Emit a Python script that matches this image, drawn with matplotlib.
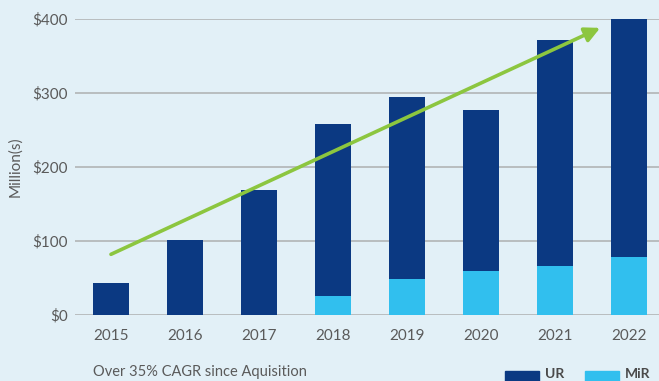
import matplotlib
matplotlib.use('Agg')
from matplotlib import pyplot as plt
from matplotlib.patches import Rectangle

years = ['2015', '2016', '2017', '2018', '2019', '2020', '2021', '2022']
mir = [0, 0, 0, 26, 49, 60, 66, 78]
total = [43, 101, 169, 258, 295, 277, 372, 400]
ur = [t - m for t, m in zip(total, mir)]
yticks = [0, 100, 200, 300, 400]

COLOR_UR = '#0b3982'
COLOR_MIR = '#31bfee'
COLOR_ARROW = '#8cc63f'
COLOR_TEXT = '#5a5a5a'
COLOR_BG = '#e2f0f7'

plt.rcParams['font.family'] = ['Lato', 'DejaVu Sans']

fig = plt.figure(figsize=(6.59, 3.81), dpi=100, facecolor=COLOR_BG)
ax = fig.add_axes([75 / 659, 1 - 315 / 381, 584 / 659, 296 / 381])
ax.set_facecolor('none')

x = list(range(len(years)))
ax.bar(x, mir, width=0.49, color=COLOR_MIR, zorder=3)
ax.bar(x, ur, width=0.49, bottom=mir, color=COLOR_UR, zorder=3)

ax.set_xlim(-0.486, 7.405)
ax.set_ylim(0, 400)
ax.set_yticks(yticks)
ax.set_yticklabels(['$%d' % v for v in yticks])
ax.set_xticks(x)
ax.set_xticklabels(years)
ax.yaxis.grid(True, color='#b5b9bb', linewidth=1.3, zorder=1)
ax.set_axisbelow(True)
for s in ax.spines.values():
    s.set_visible(False)
ax.tick_params(axis='both', length=0, labelsize=11, labelcolor=COLOR_TEXT)
ax.tick_params(axis='x', pad=10)
ax.tick_params(axis='y', pad=5)
ax.set_ylabel('Million(s)', fontsize=11, color=COLOR_TEXT, labelpad=7)

# growth arrow across the bars
ax.annotate('', xy=(6.61, 388), xytext=(0, 82),
            arrowprops=dict(arrowstyle='-|>,head_length=0.9,head_width=0.45',
                            color=COLOR_ARROW, lw=2.6, shrinkA=0, shrinkB=0),
            zorder=5)

fig.text(93 / 659, 1 - 372 / 381, 'Over 35% CAGR since Aquisition',
         fontsize=10.5, color=COLOR_TEXT, va='center', ha='left')

# legend keys along the bottom edge
for x0, col, label in [(505, COLOR_UR, 'UR'), (585, COLOR_MIR, 'MiR')]:
    fig.patches.append(Rectangle((x0 / 659, 1 - 381 / 381), 34 / 659, 10 / 381,
                                 transform=fig.transFigure, color=col,
                                 clip_on=False))
    fig.text((x0 + 40) / 659, 1 - 374 / 381, label, fontsize=10,
             fontweight='bold', color='#4a4a4a', va='center', ha='left')

fig.savefig('out.png', dpi=100, facecolor=COLOR_BG)
